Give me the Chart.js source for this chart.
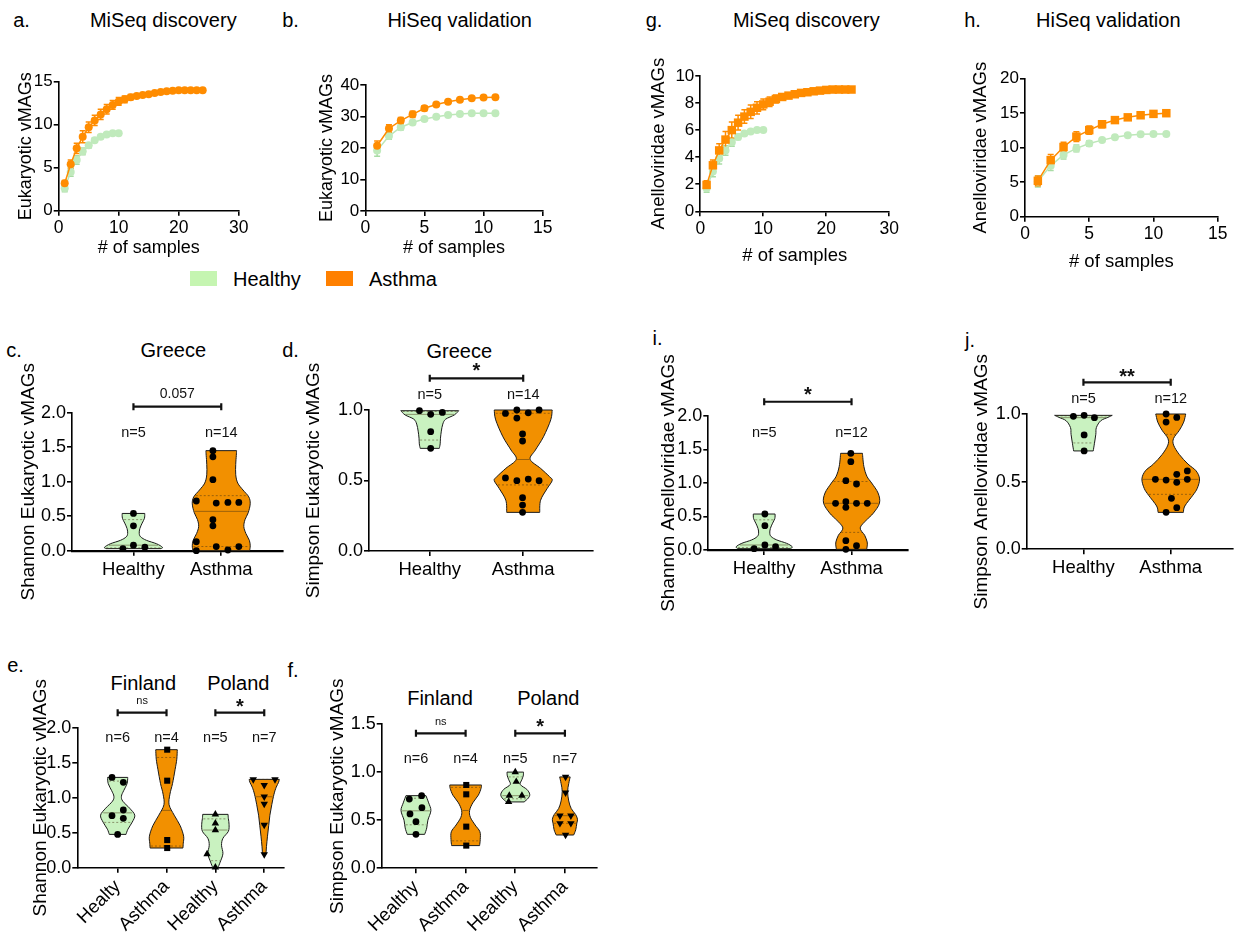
<!DOCTYPE html>
<html><head><meta charset="utf-8">
<script src="https://cdn.jsdelivr.net/npm/chart.js@4.4.0/dist/chart.umd.min.js"></script>
<style>
html,body{margin:0;padding:0;background:#fff;width:1236px;height:935px;overflow:hidden;position:relative;font-family:"Liberation Sans",Arial,Helvetica,sans-serif;}
canvas{position:absolute;}
.t{position:absolute;transform:translate(-50%,-50%);white-space:nowrap;color:#000;line-height:1;font-size:20px;}
.l{position:absolute;white-space:nowrap;color:#000;line-height:1;font-size:20px;transform:translateY(-50%);}
.box{position:absolute;}
</style></head><body>
<div class="t" style="left:21.5px;top:20px">a.</div>
<div class="t" style="left:290.5px;top:20px">b.</div>
<div class="t" style="left:654px;top:20px">g.</div>
<div class="t" style="left:972.5px;top:20px">h.</div>
<div class="t" style="left:14px;top:350px">c.</div>
<div class="t" style="left:290.5px;top:350px">d.</div>
<div class="t" style="left:657.5px;top:338px">i.</div>
<div class="t" style="left:970px;top:340px">j.</div>
<div class="t" style="left:15.5px;top:665px">e.</div>
<div class="t" style="left:293px;top:670px">f.</div>
<div class="t" style="left:163.3px;top:20px">MiSeq discovery</div>
<div class="t" style="left:459.7px;top:20px">HiSeq validation</div>
<div class="t" style="left:806.3px;top:20px">MiSeq discovery</div>
<div class="t" style="left:1108.3px;top:20px">HiSeq validation</div>
<div class="t" style="left:173.3px;top:350px">Greece</div>
<div class="t" style="left:459.3px;top:350.7px">Greece</div>
<div class="t" style="left:143.3px;top:683.3px">Finland</div>
<div class="t" style="left:238.3px;top:683.3px">Poland</div>
<div class="t" style="left:440px;top:697.7px">Finland</div>
<div class="t" style="left:548.3px;top:697.7px">Poland</div>
<div class="box" style="left:190px;top:271px;width:27px;height:15px;background:#C5F5B1"></div>
<div class="l" style="left:233px;top:278.5px">Healthy</div>
<div class="box" style="left:326px;top:271px;width:27px;height:15px;background:#FF8000"></div>
<div class="l" style="left:369px;top:278.5px">Asthma</div>
<script>
// ================= DATA =================
// Rarefaction curves (mean, SD) vs number of samples
const miseqAsthmaSamples = [1,2,3,4,5,6,7,8,9,10,11,12,13,14,15,16,17,18,19,20,21,22,23,24];
const miseqHealthySamples = [1,2,3,4,5,6,7,8,9,10];
const hiseqSamples = [1,2,3,4,5,6,7,8,9,10,11];

const miseqEukAsthma = [3.2,5.4,7.25,8.6,9.7,10.5,11.2,11.8,12.3,12.7,12.95,13.2,13.35,13.45,13.55,13.7,13.8,13.9,13.95,14,14,14,14,14];
const miseqEukAsthmaSD = [0.3,0.5,0.6,0.7,0.6,0.6,0.6,0.55,0.5,0.45,0.4,0.3,0.2,0.15,0.1,0.08,0.05,0.05,0.03,0,0,0,0,0];
const miseqEukHealthy = [2.6,4.5,5.9,6.9,7.6,8.2,8.6,8.85,9.0,9.0];
const miseqEukHealthySD = [0.4,0.5,0.5,0.4,0.3,0.25,0.2,0.15,0.1,0];

const hiseqEukAsthma = [20.7,26.2,28.7,30.7,32.6,33.8,34.7,35.3,35.8,36.0,36.1];
const hiseqEukAsthmaSD = [1.5,1.2,1.0,1.0,0.8,0.5,0.4,0.3,0.2,0.1,0];
const hiseqEukHealthy = [19.2,23.8,26.6,28.1,29.2,29.9,30.5,30.8,31.0,31.0,31.0];
const hiseqEukHealthySD = [1.8,1.0,0.9,0.6,0.5,0.3,0.3,0.2,0.1,0.1,0];

const miseqAnelAsthma = [1.95,3.4,4.5,5.3,6.0,6.55,7.0,7.35,7.65,7.9,8.1,8.3,8.45,8.55,8.65,8.75,8.8,8.87,8.92,8.97,9,9,9,9];
const miseqAnelAsthmaSD = [0.3,0.4,0.5,0.6,0.6,0.55,0.5,0.5,0.45,0.4,0.35,0.3,0.2,0.15,0.1,0.1,0.08,0.05,0.05,0.03,0,0,0,0];
const miseqAnelHealthy = [1.7,2.95,3.9,4.5,5.1,5.5,5.75,5.9,6.0,6.0];
const miseqAnelHealthySD = [0.3,0.4,0.4,0.35,0.3,0.2,0.15,0.1,0.05,0];

const hiseqAnelAsthma = [5.2,8.2,10.1,11.6,12.55,13.4,14.0,14.4,14.7,14.9,15.0];
const hiseqAnelAsthmaSD = [0.7,0.8,0.7,0.7,0.6,0.5,0.4,0.3,0.2,0.1,0];
const hiseqAnelHealthy = [5.1,7.4,8.95,9.9,10.6,11.1,11.5,11.8,11.95,12.0,12.0];
const hiseqAnelHealthySD = [0.8,0.7,0.6,0.5,0.4,0.3,0.2,0.15,0.1,0.05,0];

// Categories
const greeceGroups = ['Healthy','Asthma'];
const countryGroupsE = ['Healty','Asthma','Healthy','Asthma'];
const countryGroupsF = ['Healthy','Asthma','Healthy','Asthma'];

// Per-sample diversity values
const greeceShannonEukHealthy = [0.54,0.36,0.08,0.03,0.05];
const greeceShannonEukAsthma = [1.45,1.36,1.03,0.72,0.69,0.70,0.70,0.45,0.36,0.13,0.06,0.06,0.00,0.01];
const greeceSimpsonEukHealthy = [0.995,0.983,0.969,0.846,0.728];
const greeceSimpsonEukAsthma = [0.976,1.0,0.98,1.0,0.943,0.83,0.78,0.518,0.499,0.51,0.499,0.378,0.326,0.274];
const greeceShannonAnelHealthy = [0.537,0.363,0.075,0.02,0.05];
const greeceShannonAnelAsthma = [1.443,1.318,1.035,0.985,0.697,0.721,0.697,0.697,0.637,0.139,0.065,0.01];
const greeceSimpsonAnelHealthy = [0.983,0.99,0.973,0.845,0.727];
const greeceSimpsonAnelAsthma = [1.0,0.94,0.975,0.517,0.512,0.554,0.495,0.579,0.517,0.377,0.308,0.273];
const finlandShannonHealthy = [1.29,1.22,0.743,0.824,0.705,0.476];
const finlandShannonAsthma = [1.686,1.243,0.395,0.281];
const polandShannonHealthy = [0.762,0.633,0.538,0.195,0.005];
const polandShannonAsthma = [1.262,1.262,1.18,1.014,0.91,0.61,0.19];
const finlandSimpsonHealthy = [0.72,0.755,0.565,0.63,0.485,0.353];
const finlandSimpsonAsthma = [0.866,0.769,0.433,0.236];
const polandSimpsonHealthy = [1.0,0.9,0.755,0.755,0.69];
const polandSimpsonAsthma = [0.95,0.786,0.547,0.547,0.468,0.468,0.346];

// Violin density profiles: [value, relative density]
const greeceShannonEukHealthyDensity = [[0.03,0.95],[0.05,1.0],[0.1,0.8],[0.15,0.45],[0.2,0.25],[0.25,0.2],[0.32,0.22],[0.4,0.3],[0.47,0.38],[0.54,0.39]];
const greeceShannonEukAsthmaDensity = [[0.0,0.98],[0.07,1.0],[0.15,0.97],[0.25,0.85],[0.35,0.78],[0.45,0.82],[0.55,0.93],[0.68,1.0],[0.78,0.95],[0.88,0.75],[0.98,0.57],[1.1,0.5],[1.25,0.5],[1.38,0.52],[1.45,0.53]];
const greeceSimpsonEukHealthyDensity = [[0.728,0.33],[0.76,0.36],[0.8,0.37],[0.85,0.4],[0.9,0.45],[0.935,0.55],[0.965,0.85],[0.995,1.0]];
const greeceSimpsonEukAsthmaDensity = [[0.274,0.57],[0.36,0.6],[0.444,0.83],[0.5,1.0],[0.527,0.91],[0.586,0.6],[0.65,0.24],[0.716,0.42],[0.81,0.7],[0.93,0.95],[1.0,1.0]];
const greeceShannonAnelHealthyDensity = [[0.02,0.95],[0.05,1.0],[0.1,0.8],[0.15,0.45],[0.2,0.25],[0.25,0.2],[0.32,0.22],[0.4,0.3],[0.47,0.38],[0.537,0.39]];
const greeceShannonAnelAsthmaDensity = [[0.01,0.54],[0.06,0.56],[0.12,0.56],[0.22,0.47],[0.33,0.31],[0.45,0.54],[0.55,0.78],[0.7,1.0],[0.85,0.95],[1.0,0.72],[1.1,0.55],[1.25,0.44],[1.443,0.39]];
const greeceSimpsonAnelHealthyDensity = [[0.727,0.34],[0.78,0.38],[0.85,0.43],[0.9,0.45],[0.95,0.6],[0.975,0.85],[0.99,1.0]];
const greeceSimpsonAnelAsthmaDensity = [[0.273,0.44],[0.32,0.49],[0.4,0.77],[0.45,0.92],[0.52,1.0],[0.58,0.88],[0.63,0.6],[0.7,0.3],[0.77,0.1],[0.82,0.1],[0.88,0.3],[0.94,0.45],[1.0,0.52]];
const finlandShannonHealthyDensity = [[0.476,0.49],[0.55,0.6],[0.65,0.85],[0.75,1.0],[0.85,0.7],[0.95,0.3],[1.02,0.22],[1.1,0.35],[1.2,0.55],[1.29,0.59]];
const finlandShannonAsthmaDensity = [[0.281,0.96],[0.35,0.98],[0.45,1.0],[0.6,0.8],[0.75,0.45],[0.9,0.15],[1.05,0.2],[1.2,0.35],[1.4,0.5],[1.55,0.6],[1.686,0.63]];
const polandShannonHealthyDensity = [[0.005,0.16],[0.08,0.28],[0.2,0.44],[0.32,0.36],[0.42,0.44],[0.52,0.76],[0.62,0.8],[0.7,0.76],[0.762,0.74]];
const polandShannonAsthmaDensity = [[0.19,0.1],[0.3,0.13],[0.45,0.19],[0.6,0.26],[0.75,0.33],[0.9,0.44],[1.05,0.57],[1.15,0.7],[1.22,0.84],[1.262,0.88]];
const finlandSimpsonHealthyDensity = [[0.353,0.55],[0.42,0.68],[0.5,0.75],[0.6,0.94],[0.68,0.8],[0.755,0.63]];
const finlandSimpsonAsthmaDensity = [[0.236,0.88],[0.3,0.92],[0.38,0.9],[0.45,0.6],[0.53,0.3],[0.6,0.25],[0.68,0.45],[0.76,0.8],[0.83,0.97],[0.866,1.0]];
const polandSimpsonHealthyDensity = [[0.69,0.56],[0.73,0.82],[0.77,0.91],[0.82,0.73],[0.87,0.32],[0.92,0.41],[0.96,0.5],[1.0,0.52]];
const polandSimpsonAsthmaDensity = [[0.346,0.55],[0.4,0.68],[0.47,0.75],[0.51,0.79],[0.56,0.67],[0.62,0.4],[0.7,0.24],[0.8,0.17],[0.88,0.24],[0.95,0.33]];

// ================= LAYOUT (scatter jitter, x-units) =================
const J = {
  cH:[0,0,0,-0.12,0.13],
  cA:[-0.095,-0.095,-0.095,-0.284,-0.057,0.076,0.2,-0.095,-0.095,-0.284,-0.057,0.2,-0.284,0.076],
  dH:[-0.11,0.135,0.01,0.01,0.01],
  dA:[-0.19,-0.068,0.054,0.17,-0.068,-0.007,-0.007,-0.19,-0.068,0.054,0.17,-0.007,-0.007,-0.007],
  iH:[0.008,0.008,0.008,-0.115,0.13],
  iA:[-0.008,-0.008,-0.065,0.057,-0.183,-0.065,0.057,0.18,-0.065,-0.065,0.057,-0.065],
  jH:[-0.115,0.008,0.126,0.008,0.008],
  jA:[-0.053,-0.053,0.069,-0.176,-0.053,0.069,0.069,0.19,0.19,0.008,0.069,-0.053],
  eFH:[-0.116,0.116,-0.116,0.116,0.116,0], eFA:[0.014,0.014,0.014,0.014],
  ePH:[0,0,0,-0.17,0], ePA:[-0.225,0.22,0,0,0,0,0],
  fFH:[-0.134,0.114,-0.12,0.12,0,0], fFA:[0.013,0.013,0.013,0.013],
  fPH:[0,0.02,-0.12,0.134,-0.134], fPA:[0.013,0.013,-0.1,0.12,-0.1,0.12,0.013]
};

// ================= STYLE =================
const FF = '"Liberation Sans", Arial, Helvetica, sans-serif';
Chart.defaults.font.family = FF;
Chart.defaults.color = '#000';
const ORANGE = '#FF8C00';
const GREEN_LINE = '#BCE7B8';
const GREEN_PT = '#C0EABC';
const GREEN_ERR = '#A9DCA5';
const V_GREEN = '#C9F2C0';
const V_ORANGE = '#F29000';

function mountCanvas(g) {
  const ts = g.ts;
  const left = Math.round(g.yTitleX - ts * 0.6);
  const top = Math.round(g.pt - g.mt);
  const right = Math.round(g.pr + g.mr);
  const bottom = Math.round(g.xTitleY != null ? g.xTitleY + ts * 0.6 : g.pb + g.mb);
  const c = document.createElement('canvas');
  c.width = right - left; c.height = bottom - top;
  c.style.left = left + 'px'; c.style.top = top + 'px';
  c.style.width = c.width + 'px'; c.style.height = c.height + 'px';
  document.body.appendChild(c);
  return {canvas: c, yW: g.pl - left, xH: bottom - g.pb, padTop: g.pt - top, padRight: right - g.pr};
}

function errPlugin(sets) {
  return {id: 'errbars', beforeDatasetsDraw(chart) {
    const xs = chart.scales.x, ys = chart.scales.y, ctx = chart.ctx;
    ctx.save();
    sets.forEach(s => {
      ctx.strokeStyle = s.color; ctx.lineWidth = 1.5;
      s.x.forEach((xv, i) => {
        const e = s.err[i]; if (!e) return;
        const px = xs.getPixelForValue(xv);
        const y1 = ys.getPixelForValue(s.y[i] - e), y2 = ys.getPixelForValue(s.y[i] + e);
        ctx.beginPath();
        ctx.moveTo(px, y1); ctx.lineTo(px, y2);
        ctx.moveTo(px - 3, y1); ctx.lineTo(px + 3, y1);
        ctx.moveTo(px - 3, y2); ctx.lineTo(px + 3, y2);
        ctx.stroke();
      });
    });
    ctx.restore();
  }};
}

function catmull(ctx, pts, first) {
  if (first) ctx.moveTo(pts[0][0], pts[0][1]); else ctx.lineTo(pts[0][0], pts[0][1]);
  for (let i = 0; i < pts.length - 1; i++) {
    const p0 = pts[Math.max(i - 1, 0)], p1 = pts[i], p2 = pts[i + 1], p3 = pts[Math.min(i + 2, pts.length - 1)];
    ctx.bezierCurveTo(p1[0] + (p2[0] - p0[0]) / 6, p1[1] + (p2[1] - p0[1]) / 6,
                      p2[0] - (p3[0] - p1[0]) / 6, p2[1] - (p3[1] - p1[1]) / 6, p2[0], p2[1]);
  }
}
function quant(s, p) {
  const n = s.length, pos = (n + 1) * p;
  if (pos <= 1) return s[0];
  if (pos >= n) return s[n - 1];
  const lo = Math.floor(pos), f = pos - lo;
  return s[lo - 1] + f * (s[lo] - s[lo - 1]);
}
function halfAt(d, v) {
  if (v <= d[0][0]) return d[0][1];
  for (let i = 1; i < d.length; i++) {
    if (v <= d[i][0]) { const t = (v - d[i-1][0]) / (d[i][0] - d[i-1][0]); return d[i-1][1] + t * (d[i][1] - d[i-1][1]); }
  }
  return d[d.length - 1][1];
}
function violinPlugin(groups, maxHalf) {
  return {id: 'violins', beforeDatasetsDraw(chart) {
    const xs = chart.scales.x, ys = chart.scales.y, ctx = chart.ctx;
    ctx.save();
    groups.forEach((g, i) => {
      const cx = i + 1;
      const right = g.density.map(([v, d]) => [xs.getPixelForValue(cx + d * maxHalf), ys.getPixelForValue(v)]);
      const left = g.density.map(([v, d]) => [xs.getPixelForValue(cx - d * maxHalf), ys.getPixelForValue(v)]).reverse();
      ctx.beginPath();
      catmull(ctx, right, true);
      catmull(ctx, left, false);
      ctx.closePath();
      ctx.fillStyle = g.fill; ctx.fill();
      ctx.lineWidth = 1; ctx.strokeStyle = '#1a1a1a'; ctx.stroke();
      const s = [...g.values].sort((a, b) => a - b);
      [[0.25, true], [0.5, false], [0.75, true]].forEach(([p, dash]) => {
        const v = quant(s, p), d = halfAt(g.density, v), y = ys.getPixelForValue(v);
        ctx.beginPath(); ctx.setLineDash(dash ? [2, 2] : []);
        ctx.moveTo(xs.getPixelForValue(cx - d * maxHalf) + 1, y);
        ctx.lineTo(xs.getPixelForValue(cx + d * maxHalf) - 1, y);
        ctx.strokeStyle = 'rgba(70,50,20,0.55)'; ctx.lineWidth = 0.9; ctx.stroke();
      });
      ctx.setLineDash([]);
    });
    ctx.restore();
  }};
}
function annotPlugin(a) {
  return {id: 'annot', afterDatasetsDraw(chart) {
    const xs = chart.scales.x, ys = chart.scales.y, ctx = chart.ctx;
    ctx.save();
    ctx.textAlign = 'center'; ctx.textBaseline = 'middle'; ctx.fillStyle = '#111';
    (a.bars || []).forEach(b => {
      const x1 = xs.getPixelForValue(b.x1), x2 = xs.getPixelForValue(b.x2), y = ys.getPixelForValue(b.y);
      ctx.strokeStyle = '#111'; ctx.lineWidth = 2.2;
      ctx.beginPath();
      ctx.moveTo(x1, y); ctx.lineTo(x2, y);
      ctx.moveTo(x1, y - 3.5); ctx.lineTo(x1, y + 3.5);
      ctx.moveTo(x2, y - 3.5); ctx.lineTo(x2, y + 3.5);
      ctx.stroke();
      ctx.font = b.font;
      ctx.fillText(b.text, (x1 + x2) / 2, y + b.dy);
    });
    ctx.font = '14.5px ' + FF;
    (a.labels || []).forEach(l => ctx.fillText(l.text, xs.getPixelForValue(l.x), ys.getPixelForValue(l.y)));
    ctx.restore();
  }};
}

const AX = {border: {display: true, color: '#000', width: 1.6},
  grid: {display: true, drawOnChartArea: false, drawTicks: true, tickLength: 5, color: '#000', lineWidth: 1.6}};

function curveChart(geo, c) {
  const m = mountCanvas(geo);
  new Chart(m.canvas, {
    type: 'line',
    data: {datasets: [
      {label: 'Healthy', data: c.hx.map((x, i) => ({x, y: c.hy[i]})), borderColor: GREEN_LINE, borderWidth: 1.5,
       pointStyle: 'circle', pointRadius: 4, pointBorderWidth: 0, pointBackgroundColor: GREEN_PT, order: 2, clip: false},
      {label: 'Asthma', data: c.ax.map((x, i) => ({x, y: c.ay[i]})), borderColor: ORANGE, borderWidth: 1.5,
       pointStyle: c.as, pointRadius: c.ar, pointBorderWidth: 0, pointBackgroundColor: ORANGE, order: 1, clip: false}
    ]},
    options: {
      responsive: false, animation: false, events: [],
      layout: {padding: {top: m.padTop, right: m.padRight, left: 0, bottom: 0}, autoPadding: false},
      plugins: {legend: {display: false}, tooltip: {enabled: false}},
      scales: {
        x: {type: 'linear', min: 0, max: c.xmax, afterFit(s) { s.height = m.xH; }, ...AX,
            ticks: {stepSize: c.xstep, font: {size: 17.5}, padding: 2, color: '#000'},
            title: {display: true, text: '# of samples', font: {size: geo.ts}, padding: 0, color: '#000'}},
        y: {type: 'linear', min: 0, max: c.ymax, afterFit(s) { s.width = m.yW; }, ...AX,
            ticks: {stepSize: c.ystep, font: {size: 17}, padding: 1, color: '#000'},
            title: {display: true, text: c.yTitle, font: {size: geo.ts}, padding: 0, color: '#000'}}
      }
    },
    plugins: [errPlugin([{x: c.hx, y: c.hy, err: c.he, color: GREEN_ERR}, {x: c.ax, y: c.ay, err: c.ae, color: ORANGE}])]
  });
}

function violinChart(geo, c) {
  const m = mountCanvas(geo);
  const datasets = c.groups.map((g, i) => ({
    label: c.cats[i], data: g.values.map((v, k) => ({x: i + 1 + g.jitter[k], y: v})),
    pointStyle: g.style || 'circle', pointRadius: g.r || 3.4, pointRotation: g.rot || 0,
    pointBackgroundColor: '#000', pointBorderColor: '#000', pointBorderWidth: 0, clip: false
  }));
  new Chart(m.canvas, {
    type: 'scatter', data: {datasets},
    options: {
      responsive: false, animation: false, events: [],
      layout: {padding: {top: m.padTop, right: m.padRight, left: 0, bottom: 0}, autoPadding: false},
      plugins: {legend: {display: false}, tooltip: {enabled: false}},
      scales: {
        x: {type: 'linear', min: c.xmin, max: c.xmax, afterFit(s) { s.height = m.xH; },
            afterBuildTicks(s) { s.ticks = c.cats.map((_, i) => ({value: i + 1})); },
            border: {display: true, color: '#000', width: c.xBorder || 1.6},
            grid: AX.grid,
            ticks: {callback: v => c.cats[v - 1] ?? '', autoSkip: false, font: {size: 18.5}, padding: 3, color: '#000',
                    maxRotation: c.rot || 0, minRotation: c.rot || 0}},
        y: {type: 'linear', min: 0, max: c.ymax, afterFit(s) { s.width = m.yW; }, ...AX,
            ticks: {stepSize: 0.5, callback: v => Number(v).toFixed(1), font: {size: 18}, padding: 1, color: '#000'},
            title: {display: true, text: c.yTitle, font: {size: geo.ts}, padding: 0, color: '#000'}}
      }
    },
    plugins: [violinPlugin(c.groups, c.maxHalf), annotPlugin(c.annot)]
  });
}

// ================= PANELS =================
curveChart({pl: 58.7, pr: 238.7, pt: 81.7, pb: 210.7, yTitleX: 26, xTitleY: 248.3, ts: 18, mt: 25, mr: 20},
  {hx: miseqHealthySamples, hy: miseqEukHealthy, he: miseqEukHealthySD, ax: miseqAsthmaSamples, ay: miseqEukAsthma, ae: miseqEukAsthmaSD,
   as: 'circle', ar: 4, xmax: 30, xstep: 10, ymax: 15, ystep: 5, yTitle: 'Eukaryotic vMAGs'});
curveChart({pl: 365.3, pr: 542.7, pt: 85, pb: 211, yTitleX: 327, xTitleY: 248.3, ts: 18, mt: 25, mr: 20},
  {hx: hiseqSamples, hy: hiseqEukHealthy, he: hiseqEukHealthySD, ax: hiseqSamples, ay: hiseqEukAsthma, ae: hiseqEukAsthmaSD,
   as: 'circle', ar: 4, xmax: 15, xstep: 5, ymax: 40, ystep: 10, yTitle: 'Eukaryotic vMAGs'});
curveChart({pl: 700.3, pr: 889.3, pt: 76, pb: 211.3, yTitleX: 659, xTitleY: 256, ts: 18.5, mt: 30, mr: 20},
  {hx: miseqHealthySamples, hy: miseqAnelHealthy, he: miseqAnelHealthySD, ax: miseqAsthmaSamples, ay: miseqAnelAsthma, ae: miseqAnelAsthmaSD,
   as: 'rect', ar: 6, xmax: 30, xstep: 10, ymax: 10, ystep: 2, yTitle: 'Anelloviridae vMAGs'});
curveChart({pl: 1025, pr: 1217.7, pt: 78.7, pb: 216.7, yTitleX: 981, xTitleY: 261.7, ts: 18.5, mt: 30, mr: 16},
  {hx: hiseqSamples, hy: hiseqAnelHealthy, he: hiseqAnelHealthySD, ax: hiseqSamples, ay: hiseqAnelAsthma, ae: hiseqAnelAsthmaSD,
   as: 'rect', ar: 6, xmax: 15, xstep: 5, ymax: 20, ystep: 5, yTitle: 'Anelloviridae vMAGs'});

violinChart({pl: 72, pr: 282.7, pt: 412.7, pb: 550.7, yTitleX: 28, ts: 19, mt: 60, mr: 10, mb: 70},
  {cats: greeceGroups, xmin: 0.3, xmax: 2.7, ymax: 2, maxHalf: 0.33, xBorder: 2.2, yTitle: 'Shannon Eukaryotic vMAGs',
   groups: [{values: greeceShannonEukHealthy, jitter: J.cH, density: greeceShannonEukHealthyDensity, fill: V_GREEN},
            {values: greeceShannonEukAsthma, jitter: J.cA, density: greeceShannonEukAsthmaDensity, fill: V_ORANGE}],
   annot: {bars: [{x1: 1, x2: 2, y: 2.087, text: '0.057', dy: -12.7, font: '14px ' + FF}],
           labels: [{x: 1, y: 1.70, text: 'n=5'}, {x: 2, y: 1.70, text: 'n=14'}]}});
violinChart({pl: 369, pr: 593.3, pt: 410, pb: 551, yTitleX: 313.3, ts: 19, mt: 70, mr: 10, mb: 70},
  {cats: greeceGroups, xmin: 0.35, xmax: 2.75, ymax: 1, maxHalf: 0.31, yTitle: 'Simpson Eukaryotic vMAGs',
   groups: [{values: greeceSimpsonEukHealthy, jitter: J.dH, density: greeceSimpsonEukHealthyDensity, fill: V_GREEN},
            {values: greeceSimpsonEukAsthma, jitter: J.dA, density: greeceSimpsonEukAsthmaDensity, fill: V_ORANGE}],
   annot: {bars: [{x1: 1, x2: 2, y: 1.225, text: '*', dy: -6.3, font: 'bold 20px ' + FF}],
           labels: [{x: 1, y: 1.106, text: 'n=5'}, {x: 2, y: 1.106, text: 'n=14'}]}});
violinChart({pl: 708.3, pr: 908.3, pt: 416, pb: 550, yTitleX: 668.3, ts: 19, mt: 85, mr: 10, mb: 75},
  {cats: greeceGroups, xmin: 0.36, xmax: 2.65, ymax: 2, maxHalf: 0.32, xBorder: 2.2, yTitle: 'Shannon Anelloviridae vMAGs',
   groups: [{values: greeceShannonAnelHealthy, jitter: J.iH, density: greeceShannonAnelHealthyDensity, fill: V_GREEN},
            {values: greeceShannonAnelAsthma, jitter: J.iA, density: greeceShannonAnelAsthmaDensity, fill: V_ORANGE}],
   annot: {bars: [{x1: 1, x2: 2, y: 2.213, text: '*', dy: -6, font: 'bold 20px ' + FF}],
           labels: [{x: 1, y: 1.742, text: 'n=5'}, {x: 2, y: 1.742, text: 'n=12'}]}});
violinChart({pl: 1026.7, pr: 1232.7, pt: 414, pb: 549.3, yTitleX: 981.7, ts: 19, mt: 85, mr: 3, mb: 75},
  {cats: greeceGroups, xmin: 0.35, xmax: 2.71, ymax: 1, maxHalf: 0.33, yTitle: 'Simpson Anelloviridae vMAGs',
   groups: [{values: greeceSimpsonAnelHealthy, jitter: J.jH, density: greeceSimpsonAnelHealthyDensity, fill: V_GREEN},
            {values: greeceSimpsonAnelAsthma, jitter: J.jA, density: greeceSimpsonAnelAsthmaDensity, fill: V_ORANGE}],
   annot: {bars: [{x1: 1, x2: 2, y: 1.234, text: '**', dy: -5, font: 'bold 20px ' + FF}],
           labels: [{x: 1, y: 1.111, text: 'n=5'}, {x: 2, y: 1.111, text: 'n=12'}]}});

violinChart({pl: 77.3, pr: 283.3, pt: 727.7, pb: 867.7, yTitleX: 40, ts: 19, mt: 62, mr: 10, mb: 67},
  {cats: countryGroupsE, xmin: 0.174, xmax: 4.39, ymax: 2, maxHalf: 0.35, rot: 45, yTitle: 'Shannon Eukaryotic vMAGs',
   groups: [{values: finlandShannonHealthy, jitter: J.eFH, density: finlandShannonHealthyDensity, fill: V_GREEN},
            {values: finlandShannonAsthma, jitter: J.eFA, density: finlandShannonAsthmaDensity, fill: V_ORANGE, style: 'rect', r: 4.3},
            {values: polandShannonHealthy, jitter: J.ePH, density: polandShannonHealthyDensity, fill: V_GREEN, style: 'triangle', r: 4.3},
            {values: polandShannonAsthma, jitter: J.ePA, density: polandShannonAsthmaDensity, fill: V_ORANGE, style: 'triangle', r: 4.3, rot: 180}],
   annot: {bars: [{x1: 1, x2: 2, y: 2.214, text: 'ns', dy: -11.5, font: '11px ' + FF},
                  {x1: 3, x2: 4, y: 2.214, text: '*', dy: -5.4, font: 'bold 20px ' + FF}],
           labels: [{x: 1, y: 1.849, text: 'n=6'}, {x: 2, y: 1.849, text: 'n=4'}, {x: 3, y: 1.849, text: 'n=5'}, {x: 4, y: 1.849, text: 'n=7'}]}});
violinChart({pl: 381.7, pr: 596.7, pt: 724, pb: 868.3, yTitleX: 337, ts: 19, mt: 62, mr: 10, mb: 66},
  {cats: countryGroupsF, xmin: 0.31, xmax: 4.64, ymax: 1.5, maxHalf: 0.32, rot: 45, yTitle: 'Simpson Eukaryotic vMAGs',
   groups: [{values: finlandSimpsonHealthy, jitter: J.fFH, density: finlandSimpsonHealthyDensity, fill: V_GREEN},
            {values: finlandSimpsonAsthma, jitter: J.fFA, density: finlandSimpsonAsthmaDensity, fill: V_ORANGE, style: 'rect', r: 4.3},
            {values: polandSimpsonHealthy, jitter: J.fPH, density: polandSimpsonHealthyDensity, fill: V_GREEN, style: 'triangle', r: 4.3},
            {values: polandSimpsonAsthma, jitter: J.fPA, density: polandSimpsonAsthmaDensity, fill: V_ORANGE, style: 'triangle', r: 4.3, rot: 180}],
   annot: {bars: [{x1: 1, x2: 2, y: 1.403, text: 'ns', dy: -11, font: '11px ' + FF},
                  {x1: 3, x2: 4, y: 1.403, text: '*', dy: -6, font: 'bold 20px ' + FF}],
           labels: [{x: 1, y: 1.133, text: 'n=6'}, {x: 2, y: 1.133, text: 'n=4'}, {x: 3, y: 1.133, text: 'n=5'}, {x: 4, y: 1.133, text: 'n=7'}]}});
</script>
</body></html>
